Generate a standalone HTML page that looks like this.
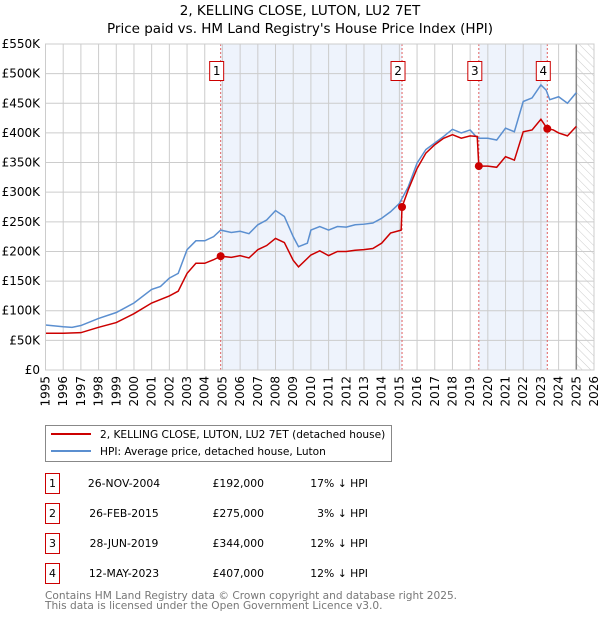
<!DOCTYPE html>
<html><head><meta charset="utf-8"><style>
body{margin:0;background:#fff;font-family:"DejaVu Sans","Liberation Sans",sans-serif;}
svg text{font-family:"DejaVu Sans","Liberation Sans",sans-serif;}
</style></head><body>
<svg id="chart" width="600" height="620" xmlns="http://www.w3.org/2000/svg">
<defs><pattern id="hatch" width="6" height="6" patternUnits="userSpaceOnUse" patternTransform="rotate(-45)"><line x1="0" y1="0" x2="0" y2="6" stroke="#ccc" stroke-width="1"/></pattern></defs>
<text x="300" y="15" text-anchor="middle" font-size="13.5" fill="#000">2, KELLING CLOSE, LUTON, LU2 7ET</text>
<text x="300" y="33" text-anchor="middle" font-size="13.5" fill="#000">Price paid vs. HM Land Registry's House Price Index (HPI)</text>
<g id="plot"></g>
<g id="legend">
<rect x="45.5" y="425.5" width="346" height="36" fill="#fff" stroke="#888"/>
<line x1="51" y1="434" x2="91" y2="434" stroke="#cc0000" stroke-width="2"/>
<text x="100" y="438" font-size="10.6">2, KELLING CLOSE, LUTON, LU2 7ET (detached house)</text>
<line x1="51" y1="451" x2="91" y2="451" stroke="#5b8fd0" stroke-width="2"/>
<text x="100" y="455" font-size="10.6">HPI: Average price, detached house, Luton</text>
</g>
<g id="table"></g>
<text x="45" y="599" font-size="10.6" fill="#777">Contains HM Land Registry data © Crown copyright and database right 2025.</text>
<text x="45" y="609" font-size="10.6" fill="#777">This data is licensed under the Open Government Licence v3.0.</text>
</svg>
<script>
const hpiYears=[1995,1996,1996.5,1997,1998,1999,2000,2001,2001.5,2002,2002.5,2003,2003.5,2004,2004.5,2004.9,2005.5,2006,2006.5,2007,2007.5,2008,2008.5,2009,2009.3,2009.8,2010,2010.5,2011,2011.5,2012,2012.5,2013,2013.5,2014,2014.5,2015,2015.5,2016,2016.5,2017,2017.5,2018,2018.5,2019,2019.3,2019.5,2020,2020.5,2021,2021.5,2022,2022.5,2023,2023.3,2023.5,2024,2024.5,2025];
const hpiValues=[76,73,72,75,87,97,113,136,141,155,163,203,218,218,225,236,232,234,230,245,253,269,259,225,208,214,236,242,236,242,241,245,246,248,256,267,281,309,349,372,383,394,406,400,405,395,391,391,388,408,402,453,459,481,472,456,461,450,468];
const propYears=[1995,1996,1997,1998,1999,2000,2001,2002,2002.5,2003,2003.5,2004,2004.5,2004.9,2005.5,2006,2006.5,2007,2007.5,2008,2008.5,2009,2009.3,2010,2010.5,2011,2011.5,2012,2012.5,2013,2013.5,2014,2014.5,2015.1,2015.15,2015.5,2016,2016.5,2017,2017.5,2018,2018.5,2019,2019.4,2019.49,2020,2020.5,2021,2021.5,2022,2022.5,2023,2023.36,2023.7,2024,2024.5,2025];
const propValues=[62,62,63,72,80,95,113,125,133,163,180,180,186,192,190,193,189,203,210,222,215,185,174,194,201,193,200,200,202,203,205,214,231,236,275,304,340,366,380,391,397,391,395,394,344,344,342,360,354,402,405,423,407,405,400,395,411];
const saleYears=[2004.9,2015.15,2019.49,2023.36];
const salePrices=[192,275,344,407];
const saleLabels=["1","2","3","4"];
const saleDates=["26-NOV-2004","26-FEB-2015","28-JUN-2019","12-MAY-2023"];
const salePriceText=["£192,000","£275,000","£344,000","£407,000"];
const saleDiffText=["17% ↓ HPI","3% ↓ HPI","12% ↓ HPI","12% ↓ HPI"];
const yTicks=[0,50,100,150,200,250,300,350,400,450,500,550];
const yTickLabels=["£0","£50K","£100K","£150K","£200K","£250K","£300K","£350K","£400K","£450K","£500K","£550K"];

const X0=45.5,X1=594,Y0=370,Y1=44;
const xs=y=>X0+(y-1995)*(X1-X0)/31;
const ys=v=>Y0-v*(Y0-Y1)/550;
const NS="http://www.w3.org/2000/svg";
const plot=document.getElementById('plot');
function mk(tag,attrs,parent){const e=document.createElementNS(NS,tag);for(const k in attrs)e.setAttribute(k,attrs[k]);parent.appendChild(e);return e;}

let r;
r=mk('rect',{x:X0,y:Y1,width:X1-X0,height:Y0-Y1,fill:'#fff'},plot);


r=mk('rect',{x:xs(saleYears[0]),y:Y1,width:xs(saleYears[1])-xs(saleYears[0]),height:Y0-Y1,fill:'#eef3fc'},plot);


r=mk('rect',{x:xs(saleYears[2]),y:Y1,width:xs(saleYears[3])-xs(saleYears[2]),height:Y0-Y1,fill:'#eef3fc'},plot);


r=mk('rect',{x:xs(2025),y:Y1,width:X1-xs(2025),height:Y0-Y1,fill:'url(#hatch)'},plot);



for(let yr=1995;yr<=2026;yr++){
  const x=xs(yr);
  const l=mk('line',{x1:x,y1:Y1,x2:x,y2:Y0,stroke:'#ccc','stroke-width':1},plot);
  
  
  const t=mk('text',{x:0,y:0,'font-size':12,'text-anchor':'end',transform:`translate(${x+4},${Y0+6}) rotate(-90)`},plot);
  t.textContent=yr;
  
  
}
yTicks.forEach((v,i)=>{
  const y=ys(v);
  const l=mk('line',{x1:X0,y1:y,x2:X1,y2:y,stroke:'#ccc','stroke-width':1},plot);
  
  
  const t=mk('text',{x:40,y:y+4,'font-size':12,'text-anchor':'end'},plot);
  t.textContent=yTickLabels[i];
  
  
});
r=mk('line',{x1:xs(2025),y1:Y1,x2:xs(2025),y2:Y0,stroke:'#888','stroke-width':1.5},plot);



saleYears.forEach((yr,i)=>{
  const x=xs(yr);
  const l=mk('line',{x1:x,y1:Y1,x2:x,y2:Y0,stroke:'#e06060','stroke-width':1,'stroke-dasharray':'2,2'},plot);
  
  
});

const hp=mk('polyline',{points:hpiYears.map((y,i)=>xs(y)+','+ys(hpiValues[i])).join(' '),fill:'none',stroke:'#5b8fd0','stroke-width':1.5},plot);


const pp=mk('polyline',{points:propYears.map((y,i)=>xs(y)+','+ys(propValues[i])).join(' '),fill:'none',stroke:'#cc0000','stroke-width':1.5},plot);



saleYears.forEach((yr,i)=>{
  const x=xs(yr),y=ys(salePrices[i]);
  const c=mk('circle',{cx:x,cy:y,r:4,fill:'#cc0000'},plot);
  
  
  const b=mk('rect',{x:x-11,y:61.5,width:14,height:19,fill:'#fff',stroke:'#cc0000'},plot);
  
  
  const t=mk('text',{x:x-4,y:75,'font-size':12,'text-anchor':'middle'},plot);
  t.textContent=saleLabels[i];
  
  
});
r=mk('rect',{x:X0,y:Y1,width:X1-X0,height:Y0-Y1,fill:'none',stroke:'#ccc'},plot);



const tbl=document.getElementById('table');
saleLabels.forEach((lab,i)=>{
  const cy=483+i*30;
  const b=mk('rect',{x:45.5,y:cy-9.5,width:14,height:20,fill:'#fff',stroke:'#cc0000'},tbl);
  
  
  let t=mk('text',{x:52.5,y:cy+4,'font-size':11,'text-anchor':'middle'},tbl);
  t.textContent=lab;
  
  
  t=mk('text',{x:124,y:cy+4,'font-size':10.8,'text-anchor':'middle'},tbl);
  t.textContent=saleDates[i];
  
  
  t=mk('text',{x:264,y:cy+4,'font-size':10.8,'text-anchor':'end'},tbl);
  t.textContent=salePriceText[i];
  
  
  t=mk('text',{x:368,y:cy+4,'font-size':10.8,'text-anchor':'end'},tbl);
  t.textContent=saleDiffText[i];
  
  
});
</script>
</body></html>
